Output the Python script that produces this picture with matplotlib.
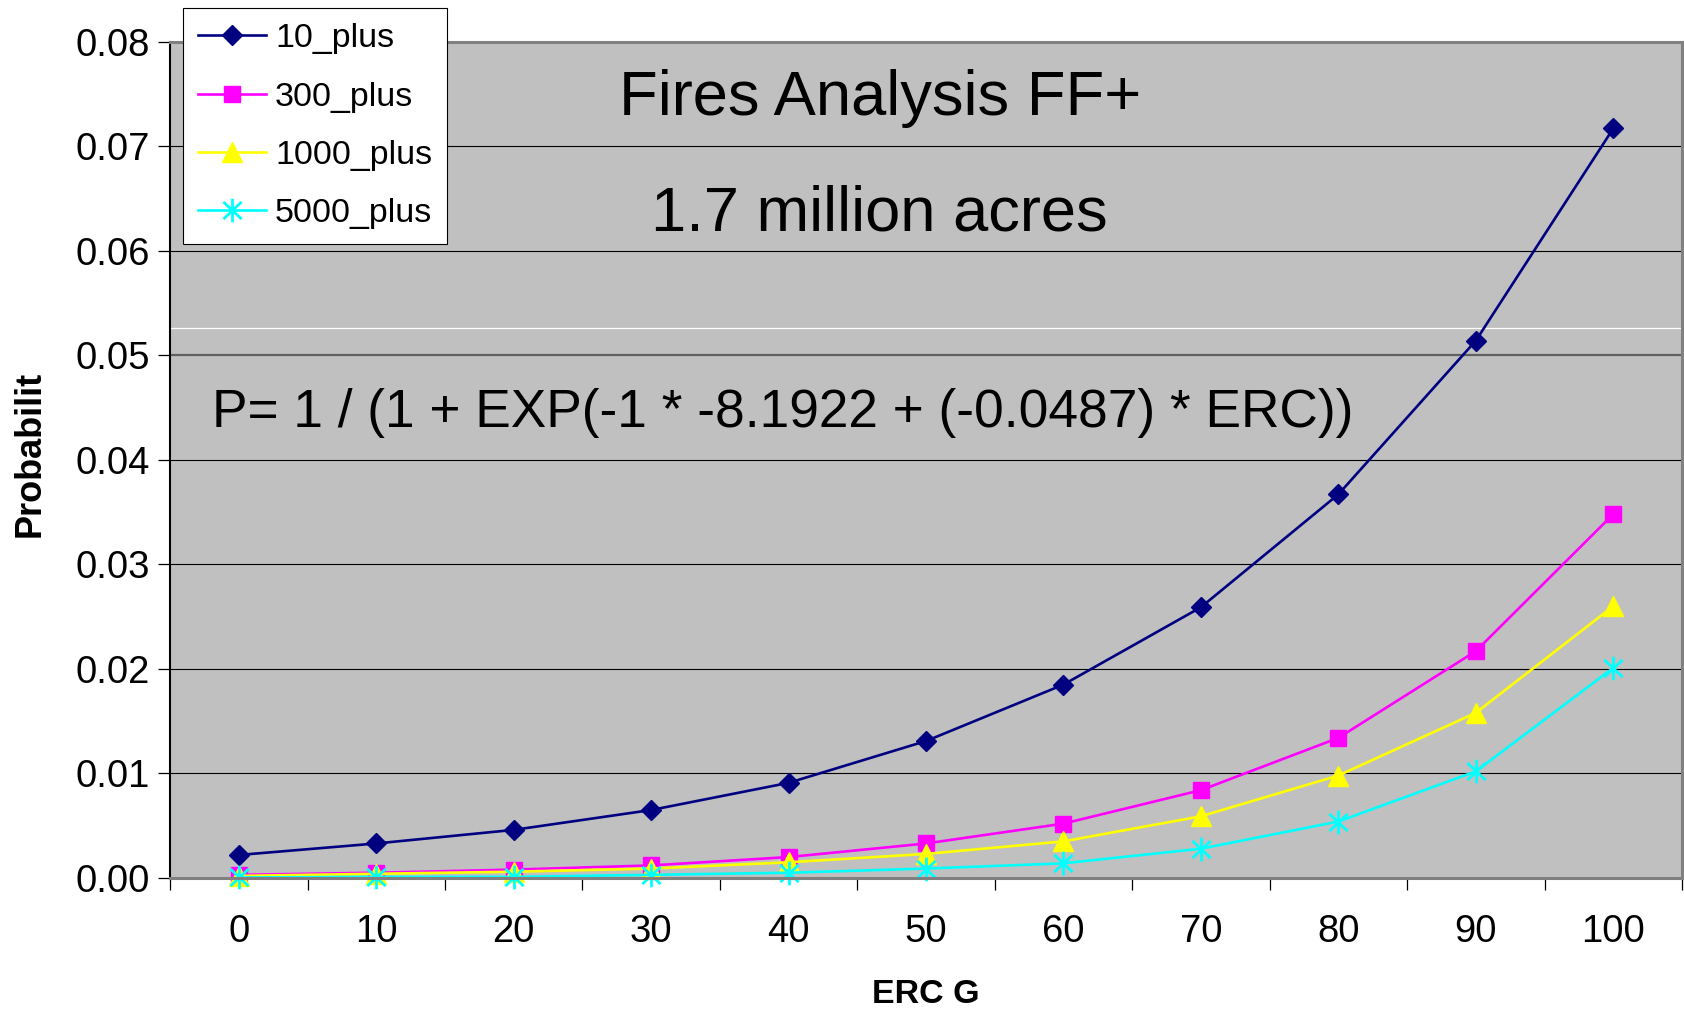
import matplotlib.pyplot as plt
from matplotlib.path import Path
import numpy as np

plt.rcParams['font.family'] = ['Liberation Sans', 'DejaVu Sans']

# ERC G classes and fire probability per size class
erc = [0, 10, 20, 30, 40, 50, 60, 70, 80, 90, 100]
p_10 = [0.0022, 0.0033, 0.0046, 0.0065, 0.0091, 0.0131, 0.0185, 0.0259, 0.0367, 0.0514, 0.0717]
p_300 = [0.0003, 0.0005, 0.0008, 0.0012, 0.0020, 0.0033, 0.0052, 0.0084, 0.0134, 0.0217, 0.0348]
p_1000 = [0.0002, 0.0004, 0.0006, 0.0009, 0.0015, 0.0023, 0.0035, 0.0059, 0.0098, 0.0158, 0.0260]
p_5000 = [0.00005, 0.0001, 0.0001, 0.0003, 0.0005, 0.0009, 0.0014, 0.0028, 0.0054, 0.0102, 0.0201]

series = [
    ("10_plus", p_10, "#000080"),
    ("300_plus", p_300, "#FF00FF"),
    ("1000_plus", p_1000, "#FFFF00"),
    ("5000_plus", p_5000, "#00FFFF"),
]

# asterisk marker: vertical bar plus an X
star = Path(
    [(0, -1.1), (0, 1.1), (-0.85, -0.8), (0.85, 0.8), (-0.85, 0.8), (0.85, -0.8)],
    [Path.MOVETO, Path.LINETO, Path.MOVETO, Path.LINETO, Path.MOVETO, Path.LINETO],
)
markers = [("D", 10.5), ("s", 11.5), ("^", 14), (star, 17)]

fig = plt.figure(figsize=(16.84, 10.13), dpi=100)
ax = fig.add_axes([0.101, 0.1333, 0.8978, 0.8255])
ax.set_facecolor("#C0C0C0")

x = np.arange(len(erc))
for (name, vals, col), (mk, ms) in zip(series, markers):
    ax.plot(x, vals, color=col, lw=1.9, marker=mk, ms=ms, mfc=col, mec=col,
            mew=2 if mk is star else 1, label=name, clip_on=False)

ax.set_xlim(-0.5, len(erc) - 0.5)
ax.set_ylim(0, 0.08)
ax.set_yticks(np.arange(0, 0.081, 0.01))
ax.set_yticklabels([f"{v:.2f}" for v in np.arange(0, 0.081, 0.01)])
ax.set_xticks(x)
ax.set_xticklabels([str(e) for e in erc])
ax.set_xticks(np.arange(-0.5, len(erc), 1), minor=True)

ax.tick_params(axis="y", direction="out", length=8.6, width=0.9, labelsize=27.5, pad=6)
ax.tick_params(axis="x", which="major", length=0, labelsize=27.5, pad=26)
ax.tick_params(axis="x", which="minor", direction="out", length=8.6, width=0.9)

for v in np.arange(0.01, 0.08, 0.01):
    c, w = ("#606060", 1.6) if abs(v - 0.05) < 1e-9 else ("black", 0.8)
    ax.axhline(v, color=c, lw=w, zorder=1)
ax.axhline(0.0526, color="white", lw=0.9, zorder=1)

ax.spines["left"].set_color("black")
ax.spines["left"].set_linewidth(1.5)
for side in ("top", "right", "bottom"):
    ax.spines[side].set_color("#808080")
    ax.spines[side].set_linewidth(2.2)

ax.text(0.4696, 0.932, "Fires Analysis FF+", transform=ax.transAxes,
        ha="center", va="center", fontsize=45.5)
ax.text(0.469, 0.794, "1.7 million acres", transform=ax.transAxes,
        ha="center", va="center", fontsize=45.5)
ax.text(0.0278, 0.5555, "P= 1 / (1 + EXP(-1 * -8.1922 + (-0.0487) * ERC))",
        transform=ax.transAxes, ha="left", va="center", fontsize=38.3)

fig.text(926 / 1684, 1 - 994 / 1013, "ERC G", ha="center", va="center",
         fontsize=24.5, fontweight="bold")
fig.text(30 / 1684, 1 - 454 / 1013, "Probabilit", ha="center", va="center",
         rotation=90, fontsize=26, fontweight="bold")

leg = fig.legend(loc="upper left", bbox_to_anchor=(183 / 1684, 1 - 8 / 1013),
                 fontsize=24.5, frameon=True, fancybox=False, framealpha=1,
                 edgecolor="black", handlelength=2.0, handletextpad=0.25,
                 borderpad=0.45, labelspacing=0.8, borderaxespad=0)
leg.get_frame().set_linewidth(0.8)

fig.savefig("out.png", dpi=100)
